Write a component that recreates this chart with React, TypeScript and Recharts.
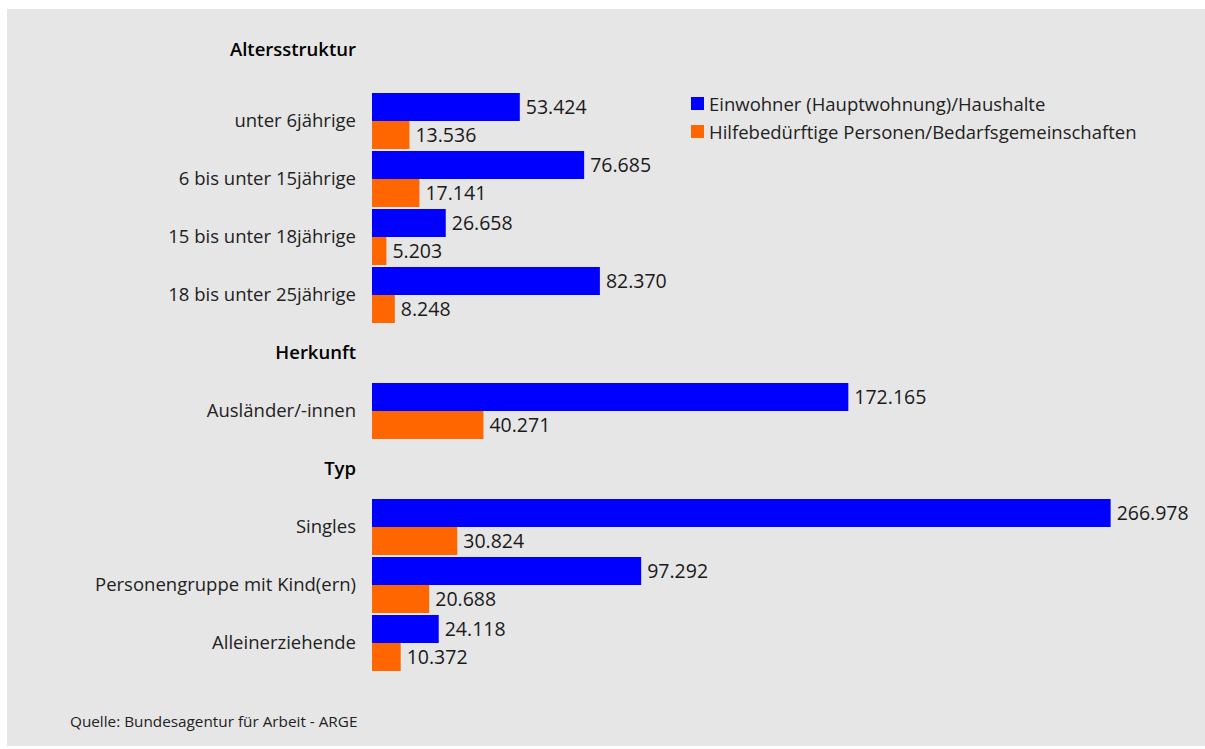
import React from 'react';
import { BarChart, Bar, XAxis, YAxis, LabelList, Legend } from 'recharts';

const categories = [
  'Altersstruktur',
  'unter 6jährige',
  '6 bis unter 15jährige',
  '15 bis unter 18jährige',
  '18 bis unter 25jährige',
  'Herkunft',
  'Ausländer/-innen',
  'Typ',
  'Singles',
  'Personengruppe mit Kind(ern)',
  'Alleinerziehende',
];
const headers = ['Altersstruktur', 'Herkunft', 'Typ'];
const einwohner = [null, 53424, 76685, 26658, 82370, null, 172165, null, 266978, 97292, 24118];
const hilfebeduerftige = [null, 13536, 17141, 5203, 8248, null, 40271, null, 30824, 20688, 10372];
const seriesNames = ['Einwohner (Hauptwohnung)/Haushalte', 'Hilfebedürftige Personen/Bedarfsgemeinschaften'];
const colors = ['#0000ff', '#ff6600'];
const source = 'Quelle: Bundesagentur für Arbeit - ARGE';

const data = categories.map((c, i) => ({ label: c, a: einwohner[i], b: hilfebeduerftige[i] }));

const FONT = '"Open Sans", "Noto Sans", sans-serif';

const fmt = (v: any) => {
  if (v === null || v === undefined) return '';
  return String(v).replace(/\B(?=(\d{3})+(?!\d))/g, '.');
};

const Tick = (props: any) => {
  const { x, y, payload, index } = props;
  const isHeader = headers.includes(payload.value);
  const dy = index === 0 ? -13 : 0;
  return (
    <text
      x={x}
      y={y + dy}
      dy="0.35em"
      textAnchor="end"
      fontFamily={FONT}
      fontSize={18.5}
      fontWeight={isHeader ? 600 : 400}
      fill={isHeader ? '#000' : '#222'}
    >
      {payload.value}
    </text>
  );
};

const LegendContent = () => (
  <div style={{ fontFamily: FONT, fontSize: 18.5, color: '#222' }}>
    {seriesNames.map((n, i) => (
      <div key={n} style={{ display: 'flex', alignItems: 'center', height: 28 }}>
        <span style={{ display: 'inline-block', width: 13, height: 13, background: colors[i], marginRight: 5 }} />
        <span>{n}</span>
      </div>
    ))}
  </div>
);

export default function App() {
  return (
    <div style={{ position: 'absolute', left: 7, top: 9, width: 1198, height: 737, background: '#e6e6e6' }}>
      <BarChart
        width={1198}
        height={737}
        layout="vertical"
        data={data}
        margin={{ top: 25, right: 3, bottom: 74, left: 0 }}
        barSize={28}
        barGap={0}
      >
        <XAxis type="number" hide domain={[0, 300000]} />
        <YAxis
          type="category"
          dataKey="label"
          width={365}
          tickLine={false}
          axisLine={false}
          interval={0}
          tickMargin={10}
          tick={<Tick />}
        />
        <Legend
          layout="vertical"
          align="center"
          verticalAlign="middle"
          content={<LegendContent />}
          wrapperStyle={{ left: 684, top: 80, width: 500 }}
        />
        <Bar dataKey="a" name={seriesNames[0]} fill={colors[0]} isAnimationActive={false}>
          <LabelList dataKey="a" position="right" offset={6} formatter={fmt} fill="#1a1a1a" fontSize={19.5} fontFamily={FONT} />
        </Bar>
        <Bar dataKey="b" name={seriesNames[1]} fill={colors[1]} isAnimationActive={false}>
          <LabelList dataKey="b" position="right" offset={6} formatter={fmt} fill="#1a1a1a" fontSize={19.5} fontFamily={FONT} />
        </Bar>
      </BarChart>
      <div style={{ position: 'absolute', left: 63, top: 702, fontFamily: FONT, fontSize: 15.3, color: '#222' }}>{source}</div>
    </div>
  );
}
